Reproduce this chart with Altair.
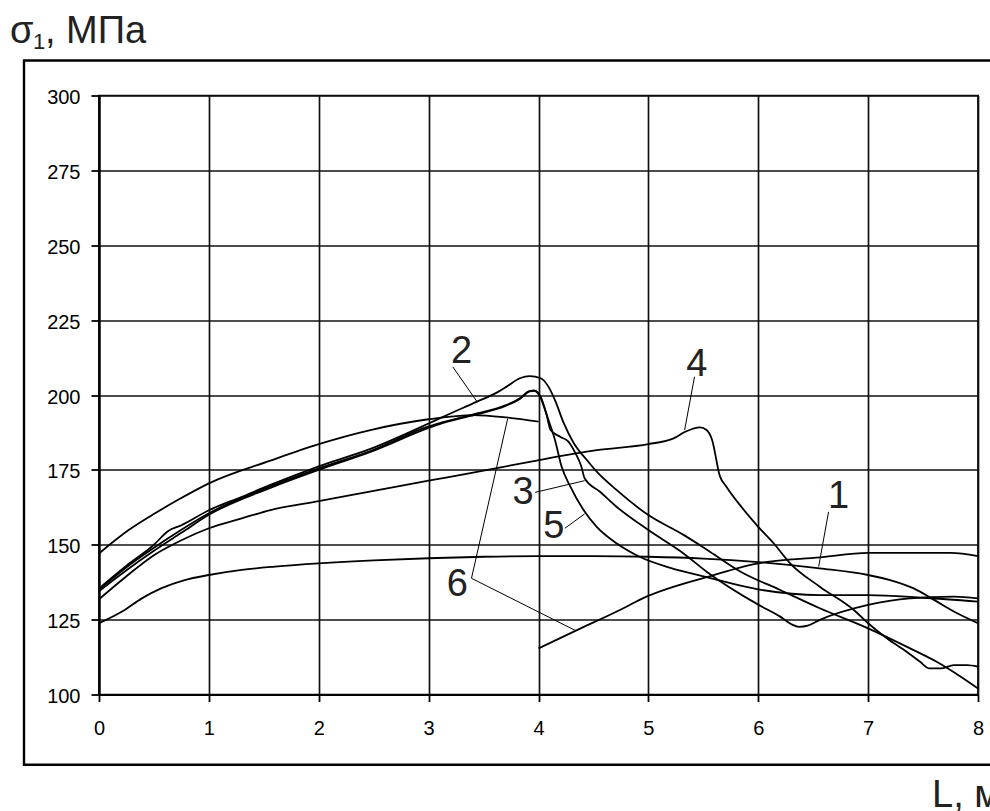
import altair as alt
import pandas as pd

FONT = "Liberation Sans"

# Axis ticks
x_ticks = [0, 1, 2, 3, 4, 5, 6, 7, 8]
y_ticks = [100, 125, 150, 175, 200, 225, 250, 275, 300]

# Curve 1
x1 = [0, 0.21, 0.39, 0.57, 0.78, 1, 1.3, 1.6, 2, 2.5, 3, 3.5, 4, 4.5, 5, 5.5, 6,
      6.56, 7, 7.2, 7.41, 7.6, 7.78, 8]
y1 = [123.8, 127.7, 132.1, 135.5, 138.2, 139.9, 141.6, 142.7, 143.8, 144.8, 145.5,
      146.0, 146.2, 146.2, 146.0, 145.4, 144.2, 142.1, 139.9, 138.2, 135.5, 131.6,
      127.7, 123.8]

# Curve 2
x2 = [0, 0.25, 0.5, 0.63, 0.75, 1, 1.3, 1.56, 2, 2.47, 3, 3.1, 3.44, 3.62, 3.71,
      3.83, 3.92, 4.02, 4.09, 4.15, 4.23, 4.32, 4.44, 4.53, 4.71, 5, 5.32, 5.56,
      5.84, 6.2, 6.56, 7, 7.41, 7.62, 7.84, 8]
y2 = [135.4, 143.0, 150.0, 154.6, 156.5, 161.5, 166.0, 170.0, 176.2, 182.0, 190.5,
      192.2, 197.8, 200.8, 202.8, 205.6, 206.3, 205.6, 202.8, 198.3, 190.6, 184.0,
      178.3, 174.4, 168.3, 159.9, 153.3, 147.7, 141.0, 134.9, 128.8, 122.1, 114.9,
      111.0, 106.0, 102.0]

# Curve 3
x3 = [0, 0.25, 0.5, 0.75, 1, 1.56, 2, 2.47, 3, 3.1, 3.38, 3.71, 3.83, 3.92, 3.96,
      4.02, 4.07, 4.11, 4.2, 4.27, 4.33, 4.39, 4.42, 4.56, 4.71, 5, 5.32, 5.53, 6,
      6.2, 6.3, 6.37, 6.45, 6.56, 7, 7.38, 7.78, 8]
y3 = [135.0, 142.5, 149.0, 155.0, 160.5, 169.5, 175.5, 181.3, 189.5, 190.6, 193.3,
      196.7, 198.9, 201.4, 201.5, 199.4, 194.0, 188.3, 186.0, 184.5, 181.0, 176.1,
      172.2, 167.7, 162.7, 154.9, 147.1, 141.0, 130.0, 126.0, 123.5, 122.6, 123.0,
      124.9, 129.9, 132.1, 132.7, 132.1]

# Curve 4
x4 = [0, 0.25, 0.5, 0.75, 1, 1.3, 1.56, 2, 2.5, 3, 3.38, 3.92, 4.53, 5, 5.23, 5.34,
      5.47, 5.53, 5.58, 5.65, 5.71, 5.85, 6, 6.14, 6.29, 6.56, 6.87, 7, 7.17, 7.35,
      7.47, 7.56, 7.66, 7.78, 7.9, 8]
y4 = [131.8, 139.5, 146.5, 151.5, 155.5, 158.8, 161.6, 164.6, 168.0, 171.4, 173.9,
      177.7, 181.6, 183.6, 185.5, 187.8, 189.2, 188.3, 185.0, 173.0, 169.4, 162.5,
      156.0, 150.5, 143.8, 136.0, 128.2, 123.8, 118.8, 114.3, 111.0, 108.7, 108.7,
      109.8, 109.8, 109.3]

# Curve 5
x5 = [0, 0.25, 0.5, 0.75, 1, 1.56, 2, 2.47, 3, 3.1, 3.38, 3.71, 3.83, 3.92, 3.96,
      4.02, 4.05, 4.09, 4.15, 4.21, 4.29, 4.41, 4.53, 4.71, 4.92, 5.2, 5.53, 6, 6.56,
      7, 7.5, 8]
y5 = [134.5, 141.5, 148.0, 154.0, 160.0, 169.0, 175.0, 181.0, 189.0, 190.3, 193.0,
      196.5, 198.7, 201.2, 201.4, 199.0, 196.0, 191.7, 185.0, 176.1, 169.4, 161.6,
      156.0, 150.5, 146.0, 142.3, 139.2, 135.1, 133.2, 133.2, 132.3, 131.0]

# Curve 6: two branches, before and after L = 4 m
x6a = [0, 0.27, 0.51, 0.72, 1, 1.56, 2, 2.47, 3, 3.41, 3.71, 4]
y6a = [147.1, 154.9, 160.5, 165.0, 170.5, 178.1, 183.6, 188.3, 191.9, 193.3, 192.5,
       191.1]
x6b = [4, 4.35, 4.8, 4.92, 5.53, 6, 6.56, 7, 7.75, 8]
y6b = [115.4, 121.5, 129.3, 131.6, 139.2, 143.8, 145.8, 147.3, 147.3, 146.2]

# Curve labels and their leader lines
label_text = ["1", "2", "3", "4", "5", "6"]
label_x = [6.73, 3.30, 3.86, 5.44, 4.14, 3.26]
label_y = [166.0, 214.4, 167.2, 210.0, 156.0, 136.6]

leader_x = [6.64, 3.22, 3.97, 5.42, 4.24, 3.39, 3.39]
leader_y = [161.0, 209.4, 167.5, 206.1, 155.5, 138.8, 138.8]
leader_x2 = [6.55, 3.44, 4.42, 5.33, 4.42, 3.72, 4.34]
leader_y2 = [142.7, 197.8, 171.4, 188.3, 160.3, 192.2, 121.3]

series = [("1", x1, y1), ("2", x2, y2), ("3", x3, y3), ("4", x4, y4),
          ("5", x5, y5), ("6a", x6a, y6a), ("6b", x6b, y6b)]
rows = []
for seg, xs, ys in series:
    for xv, yv in zip(xs, ys):
        rows.append({"L": xv, "s": yv, "seg": seg})
curves_df = pd.DataFrame(rows)

labels_df = pd.DataFrame({"L": label_x, "s": label_y, "text": label_text})
leaders_df = pd.DataFrame({"L": leader_x, "s": leader_y, "L2": leader_x2, "s2": leader_y2})
one = pd.DataFrame({"k": [0]})

x_scale = alt.Scale(domain=[0, 8], nice=False, zero=False)
y_scale = alt.Scale(domain=[100, 300], nice=False, zero=False)

x_axis = alt.Axis(values=x_ticks, tickSize=7, labelPadding=17, labelFontSize=20,
                  labelFont=FONT, labelColor="black", tickColor="black",
                  tickWidth=1.8, domainColor="black", domainWidth=2.2, grid=True,
                  gridColor="#111", gridWidth=1.7, gridOpacity=1, labelFlush=False)
y_axis = alt.Axis(values=y_ticks, tickSize=8, labelPadding=11, labelFontSize=20,
                  labelFont=FONT, labelColor="black", tickColor="black",
                  tickWidth=1.8, domainColor="black", domainWidth=2.2, grid=True,
                  gridColor="#111", gridWidth=1.7, gridOpacity=1, labelOffset=2,
                  labelFlush=False)

X = alt.X("L:Q", scale=x_scale, title=None, axis=x_axis)
Y = alt.Y("s:Q", scale=y_scale, title=None, axis=y_axis)

curves = alt.Chart(curves_df).mark_line(
    color="black", strokeWidth=1.8, interpolate="monotone"
).encode(x=X, y=Y, detail="seg:N")

leaders = alt.Chart(leaders_df).mark_rule(color="black", strokeWidth=1).encode(
    x=X, y=Y, x2="L2:Q", y2="s2:Q"
)

labels = alt.Chart(labels_df).mark_text(
    font=FONT, fontSize=38, color="#222", align="center", baseline="middle"
).encode(x=X, y=Y, text="text:N")

# Outer frame around the plot
frame = alt.Chart(one).mark_rect(filled=False, stroke="black", strokeWidth=2.4).encode(
    x=alt.value(-75), x2=alt.value(1000), y=alt.value(-35), y2=alt.value(669.3)
)

# Axis titles
sigma = alt.Chart(one).mark_text(
    text="σ", font=FONT, fontSize=38, color="#222", align="left", baseline="alphabetic"
).encode(x=alt.value(-89), y=alt.value(-52.5))
sub1 = alt.Chart(one).mark_text(
    text="1", font=FONT, fontSize=22, color="#222", align="left", baseline="alphabetic"
).encode(x=alt.value(-66), y=alt.value(-46.5))
unit = alt.Chart(one).mark_text(
    text=", МПа", font=FONT, fontSize=38, color="#222", align="left", baseline="alphabetic"
).encode(x=alt.value(-54), y=alt.value(-52.5))
xtitle = alt.Chart(one).mark_text(
    text="L, м", font=FONT, fontSize=38, color="#222", align="left", baseline="alphabetic"
).encode(x=alt.value(833), y=alt.value(711.5))

chart = alt.layer(frame, curves, leaders, labels, sigma, sub1, unit, xtitle).properties(
    width=879,
    height=599,
    padding={"left": 99, "top": 95.5, "right": 12, "bottom": 116.5},
    autosize=alt.AutoSizeParams(type="none"),
    background="white",
).configure_view(stroke="black", strokeWidth=1.7)

chart.save("out.html", embed_options={"renderer": "svg", "actions": False})
